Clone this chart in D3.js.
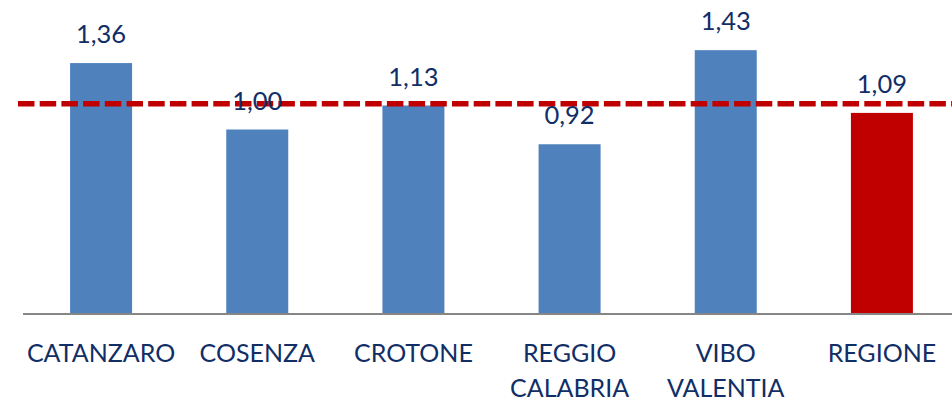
<!DOCTYPE html>
<html>
<head>
<meta charset="utf-8">
<script src="https://cdn.jsdelivr.net/npm/d3@7"></script>
<style>
  body { margin: 0; background: #fff; }
  svg text { font-family: Lato, 'Open Sans', sans-serif; fill: #112e66; }
</style>
</head>
<body>
<script>
const categories = ['CATANZARO', 'COSENZA', 'CROTONE', 'REGGIO CALABRIA', 'VIBO VALENTIA', 'REGIONE'];
const values = [1.36, 1.00, 1.13, 0.92, 1.43, 1.09];
const valueLabels = ['1,36', '1,00', '1,13', '0,92', '1,43', '1,09'];
const referenceValue = 1.14;

const w = 952;
const h = 401;
const baseY = 314;

const xScale = d3.scaleBand()
  .domain(categories)
  .range([23, 960])
  .paddingInner(0.603)
  .paddingOuter(0.3015);

const yScale = d3.scaleLinear()
  .domain([0, 1])
  .range([baseY, baseY - 184.5]);

const svg = d3.select('body')
  .append('svg')
  .attr('width', w)
  .attr('height', h);

svg.selectAll('rect.bar')
  .data(categories)
  .enter()
  .append('rect')
  .attr('class', 'bar')
  .attr('x', d => xScale(d))
  .attr('y', (d, i) => yScale(values[i]))
  .attr('width', xScale.bandwidth())
  .attr('height', (d, i) => baseY - yScale(values[i]))
  .attr('fill', d => d === 'REGIONE' ? '#c00000' : '#4f81bd');

// x axis, no ticks
const xAxis = d3.axisBottom(xScale).tickSize(0).tickFormat('');
const axisG = svg.append('g')
  .attr('transform', 'translate(0,' + baseY + ')')
  .call(xAxis);
axisG.select('.domain')
  .attr('d', 'M23,0H952')
  .attr('stroke', '#868686')
  .attr('stroke-width', 2);

// category labels (wrapped on space for two-word names)
svg.selectAll('text.cat')
  .data(categories)
  .enter()
  .append('text')
  .attr('class', 'cat')
  .attr('text-anchor', 'middle')
  .attr('font-size', 25)
  .each(function (d) {
    const words = d.split(' ');
    const cx = xScale(d) + xScale.bandwidth() / 2;
    d3.select(this).selectAll('tspan')
      .data(words)
      .enter()
      .append('tspan')
      .attr('x', cx)
      .attr('y', (t, j) => 362 + j * 35)
      .text(t => t);
  });

// reference dashed line
svg.append('line')
  .attr('x1', 18)
  .attr('x2', w)
  .attr('y1', yScale(referenceValue))
  .attr('y2', yScale(referenceValue))
  .attr('stroke', '#c00000')
  .attr('stroke-width', 5.5)
  .attr('stroke-dasharray', '16.5,5.2');

// value labels
svg.selectAll('text.val')
  .data(categories)
  .enter()
  .append('text')
  .attr('class', 'val')
  .attr('text-anchor', 'middle')
  .attr('font-size', 25.5)
  .attr('x', d => xScale(d) + xScale.bandwidth() / 2)
  .attr('y', (d, i) => yScale(values[i]) - 20)
  .text((d, i) => valueLabels[i]);
</script>
</body>
</html>
